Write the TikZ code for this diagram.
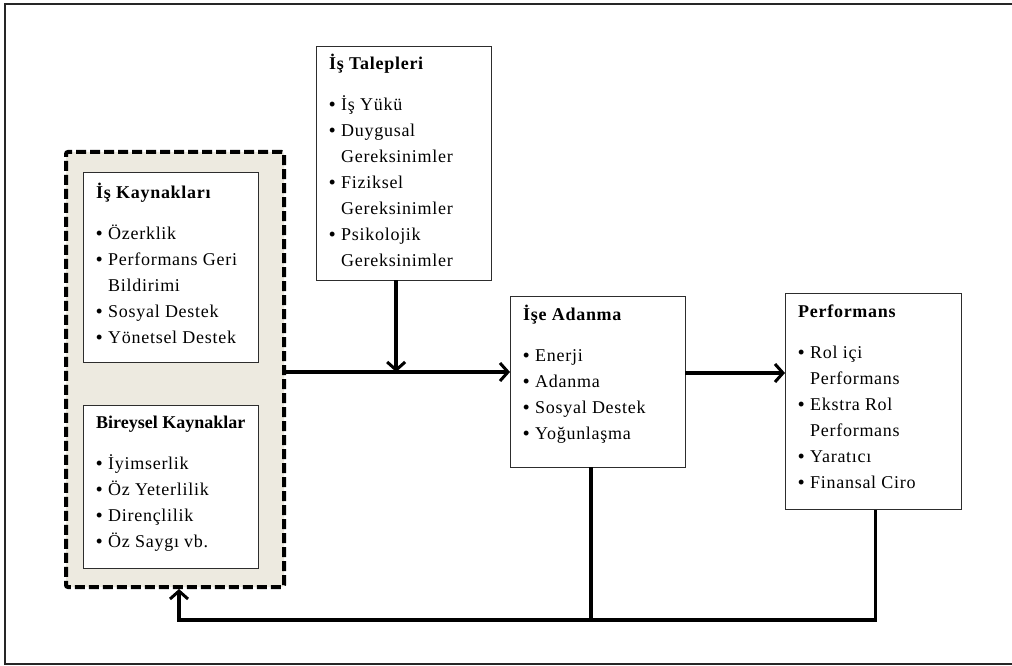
\documentclass[tikz,border=0pt]{standalone}
\usepackage{fontspec}
\setmainfont[LetterSpace=4]{Liberation Serif}
\usetikzlibrary{arrows.meta,calc}
\definecolor{panel}{RGB}{237,234,224}
\definecolor{edge}{RGB}{45,45,45}
\newcommand\bul{\makebox[12pt][l]{\textbf{•}}}
\newcommand\ind{\hspace*{12pt}}
\newcommand\boxtext[1]{\begin{minipage}[t]{170pt}\raggedright #1\end{minipage}}
\tikzset{
  x=1pt, y=-1pt,
  card/.style={draw=edge, line width=1.3pt, fill=white, anchor=north west, inner sep=0},
  txt/.style={anchor=base west, inner sep=0, font=\fontsize{18}{26}\selectfont},
  ln/.style={line width=3.5pt, line cap=rect},
  arr/.style={ln, -{Straight Barb[length=8pt, width=18pt, line width=3pt]}},
}
\begin{document}
\begin{tikzpicture}
\useasboundingbox (0,0) rectangle (1012,666);
% outer frame
\draw[line width=2.5pt, draw=black!85] (5,4) rectangle (1030,664);

% resources group
\node[draw=black, line width=4pt, dash pattern=on 10pt off 4pt, rounded corners=2pt,
      fill=panel, anchor=north west, minimum width=218pt, minimum height=435pt, inner sep=0]
      (grp) at (64,150) {};

\node[card, minimum width=175pt, minimum height=190pt] (kay) at (83,172) {};
\node[txt] (kayt) at ($(kay.north west)+(13,26)$) {\boxtext{\textbf{İş Kaynakları}\\[15pt]
  \bul Özerklik\\ \bul Performans Geri\\ \ind Bildirimi\\ \bul Sosyal Destek\\ \bul Yönetsel Destek}};

\node[card, minimum width=175pt, minimum height=163pt] (bir) at (83,405) {};
\node[txt] (birt) at ($(bir.north west)+(13,23)$) {\boxtext{\textbf{\addfontfeature{LetterSpace=0}Bireysel Kaynaklar}\\[15pt]
  \bul İyimserlik\\ \bul Öz Yeterlilik\\ \bul Dirençlilik\\ \bul Öz Saygı vb.}};

% job demands
\node[card, minimum width=175pt, minimum height=234pt] (tal) at (316,46) {};
\node[txt] (talt) at ($(tal.north west)+(13,24)$) {\boxtext{\textbf{İş Talepleri}\\[15pt]
  \bul İş Yükü\\ \bul Duygusal\\ \ind Gereksinimler\\ \bul Fiziksel\\ \ind Gereksinimler\\
  \bul Psikolojik\\ \ind Gereksinimler}};

% engagement
\node[card, minimum width=175pt, minimum height=171pt] (ada) at (510,296) {};
\node[txt] (adat) at ($(ada.north west)+(13,24)$) {\boxtext{\textbf{İşe Adanma}\\[15pt]
  \bul Enerji\\ \bul Adanma\\ \bul Sosyal Destek\\ \bul Yoğunlaşma}};

% performance
\node[card, minimum width=176pt, minimum height=216pt] (per) at (785,293) {};
\node[txt] (pert) at ($(per.north west)+(13,24)$) {\boxtext{\textbf{Performans}\\[15pt]
  \bul Rol içi\\ \ind Performans\\ \bul Ekstra Rol\\ \ind Performans\\ \bul Yaratıcı\\ \bul Finansal Ciro}};

% connectors
\coordinate (mid) at ([xshift=-8pt]tal.south |- 0,372);
\draw[ln] (grp.east |- mid) -- (mid);
\draw[arr] (mid) -- (ada.west |- mid);
\draw[arr] ([xshift=-8pt]tal.south) -- (mid);
\draw[arr] (ada.east |- 0,373) -- (per.west |- 0,373);

\coordinate (fb) at ([xshift=4pt]grp.south |- 0,620);
\draw[ln] ([xshift=-7pt]ada.south) -- ([xshift=-7pt]ada.south |- fb);
\draw[arr, line cap=butt] ([xshift=2pt]per.south) |- (fb) -- ([xshift=4pt]grp.south);
\end{tikzpicture}
\end{document}
